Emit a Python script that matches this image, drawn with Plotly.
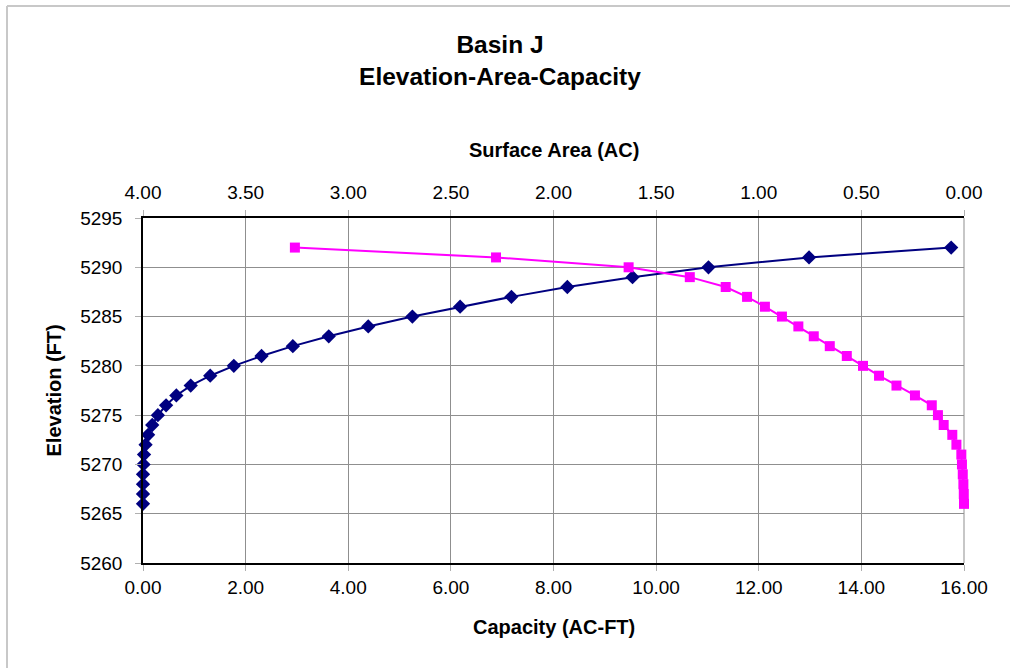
import plotly.graph_objects as go

elevation = [5266, 5267, 5268, 5269, 5270, 5271, 5272, 5273, 5274, 5275,
             5276, 5277, 5278, 5279, 5280, 5281, 5282, 5283, 5284, 5285,
             5286, 5287, 5288, 5289, 5290, 5291, 5292]
capacity = [0.00, 0.00, 0.00, 0.00, 0.01, 0.02, 0.05, 0.10, 0.18, 0.29,
            0.45, 0.65, 0.93, 1.31, 1.77, 2.31, 2.92, 3.62, 4.39, 5.25,
            6.18, 7.18, 8.27, 9.54, 11.02, 12.98, 15.75]
surface_area = [0.000, 0.001, 0.003, 0.006, 0.010, 0.013, 0.037, 0.057, 0.099, 0.127,
                0.157, 0.239, 0.329, 0.414, 0.492, 0.571, 0.654, 0.732, 0.807, 0.887,
                0.970, 1.057, 1.161, 1.336, 1.634, 2.280, 3.260]

cap_ticks = [0, 2, 4, 6, 8, 10, 12, 14, 16]
area_ticks = [4.0, 3.5, 3.0, 2.5, 2.0, 1.5, 1.0, 0.5, 0.0]
elev_ticks = [5260, 5265, 5270, 5275, 5280, 5285, 5290, 5295]

FONT = "Liberation Sans, Arial, sans-serif"
GRID = "#8f8f8f"
TICKC = "#b0b0b0"
BORDER = "#c8c8c8"

fig = go.Figure()
fig.add_trace(go.Scatter(
    x=capacity, y=elevation, mode="lines+markers", name="Capacity",
    line=dict(color="#000080", width=2),
    marker=dict(symbol="diamond", size=11, color="#000080"),
    cliponaxis=False,
    xaxis="x", yaxis="y", showlegend=False))
fig.add_trace(go.Scatter(
    x=surface_area, y=elevation, mode="lines+markers", name="Surface Area",
    line=dict(color="#FF00FF", width=2),
    marker=dict(symbol="square", size=10, color="#FF00FF"),
    cliponaxis=False,
    xaxis="x2", yaxis="y", showlegend=False))

fig.update_layout(
    width=1010, height=668,
    margin=dict(l=143, r=46, t=218, b=105),
    paper_bgcolor="white", plot_bgcolor="white",
    font=dict(family=FONT, size=19, color="black"),
    title=dict(text="<b>Basin J<br>Elevation-Area-Capacity</b>",
               x=500 / 1010, xanchor="center", xref="container",
               y=1 - 53 / 668, yanchor="top", yref="container",
               font=dict(family=FONT, size=24.5, color="black")),
    xaxis=dict(range=[0, 16], tickvals=cap_ticks, tickformat=".2f",
               showgrid=True, gridcolor=GRID, gridwidth=1,
               showline=True, linecolor="black", linewidth=1.5,
               ticks="outside", ticklen=6, tickcolor=TICKC,
               zeroline=False, mirror=False,
               tickfont=dict(size=19)),
    xaxis2=dict(range=[4, 0], tickvals=area_ticks, tickformat=".2f",
                overlaying="x", side="top", anchor="y",
                showgrid=False, showline=True, linecolor="black", linewidth=1.5,
                ticks="outside", ticklen=6, tickcolor=TICKC,
                ticklabelstandoff=4,
                zeroline=False, tickfont=dict(size=19)),
    yaxis=dict(range=[5260, 5295], tickvals=elev_ticks,
               showgrid=True, gridcolor=GRID, gridwidth=1,
               showline=True, linecolor="black", linewidth=1.5,
               ticks="outside", ticklen=6, tickcolor=TICKC,
               ticklabelstandoff=9,
               zeroline=False, tickfont=dict(size=19)),
    annotations=[
        dict(text="<b>Capacity (AC-FT)</b>", xref="paper", yref="paper",
             x=0.5, y=(563 - 627) / 345, xanchor="center", yanchor="middle",
             showarrow=False, font=dict(family=FONT, size=20, color="black")),
        dict(text="<b>Surface Area (AC)</b>", xref="paper", yref="paper",
             x=0.5, y=(563 - 150) / 345, xanchor="center", yanchor="middle",
             showarrow=False, font=dict(family=FONT, size=20, color="black")),
        dict(text="<b>Elevation (FT)</b>", xref="paper", yref="paper",
             x=(53 - 143) / 821, y=0.5, xanchor="center", yanchor="middle",
             textangle=-90,
             showarrow=False, font=dict(family=FONT, size=20, color="black")),
    ],
    shapes=[
        dict(type="line", xref="paper", yref="paper",
             x0=(7 - 143) / 821, x1=(1010 - 143) / 821,
             y0=(563 - 6) / 345, y1=(563 - 6) / 345,
             line=dict(color=BORDER, width=2), layer="below"),
        dict(type="line", xref="paper", yref="paper",
             x0=(7 - 143) / 821, x1=(7 - 143) / 821,
             y0=(563 - 668) / 345, y1=(563 - 6) / 345,
             line=dict(color=BORDER, width=2), layer="below"),
        dict(type="line", xref="paper", yref="paper",
             x0=1, x1=1, y0=0, y1=1, line=dict(color=GRID, width=1),
             layer="below"),
    ],
)

fig.write_html("out.html",
               config={"displayModeBar": False},
               post_script="document.body.style.margin='0';"
                           "document.body.style.overflow='hidden';")
